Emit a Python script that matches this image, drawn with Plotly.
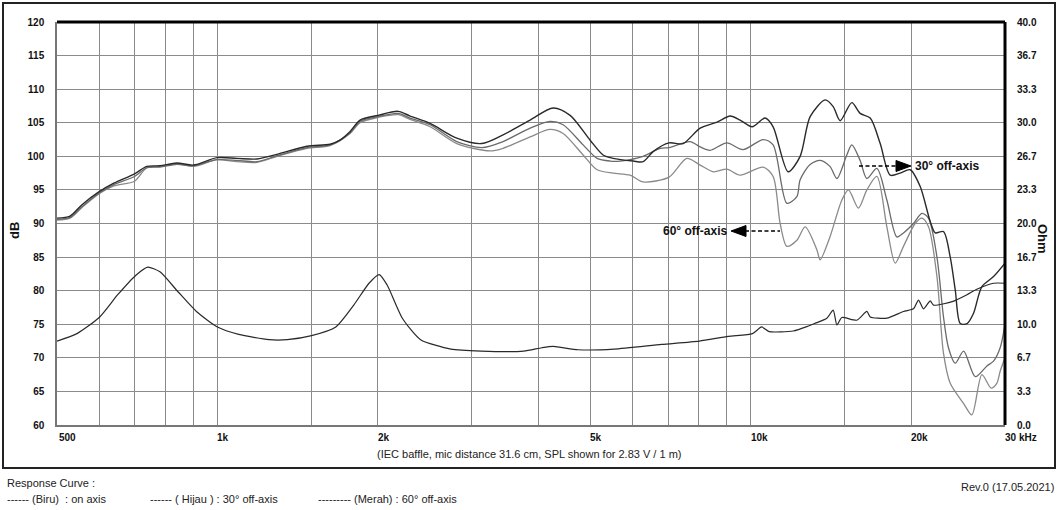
import numpy as np
import plotly.graph_objects as go

# ---------------- data ----------------
freq_on = [500, 529, 557, 599, 639, 699, 737, 780, 839, 902, 998, 1088, 1186, 1293, 1472, 1626,
           1698, 1773, 1851, 2000, 2182, 2297, 2505, 2811, 3131, 3433, 3858, 4262, 4586, 5000,
           5288, 5521, 6019, 6285, 6562, 7031, 7470, 8040, 8653, 9153, 9557, 10065, 10646, 11020,
           11760, 12385, 12930, 13800, 14285, 14720, 15480, 16045, 16760, 17500, 18270, 19075,
           19920, 20800, 21720, 22195, 23000, 23680, 24200, 24730, 25460, 26180, 27150, 28550, 30000]
db_on = [90.8, 91.1, 92.8, 94.7, 96.0, 97.4, 98.5, 98.6, 99.0, 98.7, 99.8, 99.7, 99.6, 100.3, 101.5, 101.8,
         102.4, 103.7, 105.4, 106.1, 106.7, 106.0, 104.9, 102.7, 101.9, 103.2, 105.4, 107.2, 106.1, 102.4,
         100.2, 99.7, 99.3, 99.2, 100.7, 102.0, 101.9, 104.2, 105.1, 106.0, 105.4, 104.4, 105.7, 104.4,
         97.7, 100.0, 105.9, 108.4, 107.4, 105.3, 108.0, 106.4, 105.7, 101.9, 97.2, 97.5,
         98.0, 95.5, 90.3, 88.6, 88.8, 85.0, 80.1, 75.1, 75.1, 76.6, 80.6, 82.1, 84.1]

freq_30 = [500, 529, 557, 599, 639, 699, 737, 780, 839, 902, 998, 1088, 1186, 1293, 1472, 1626,
           1773, 1851, 2000, 2182, 2297, 2505, 2811, 3131, 3433, 3858, 4206, 4449, 4851, 5153,
           5450, 5691, 6285, 6763, 7031, 7700, 8040, 8395, 9022, 9680, 10556, 11020, 11695, 12210,
           12385, 12930, 13500, 14085, 14515, 15150, 15480, 16045, 16520, 17250, 18010, 18805,
           19350, 20205, 20955, 21560, 22360, 23000, 23500, 24200, 25090, 26380, 27750, 28550,
           29380, 30000]
db_30 = [90.6, 90.9, 92.5, 94.5, 95.8, 97.0, 98.3, 98.4, 98.8, 98.6, 99.5, 99.4, 99.2, 100.1, 101.3, 101.7,
         103.5, 105.2, 105.9, 106.4, 105.7, 104.7, 102.2, 101.3, 102.2, 104.2, 105.2, 104.7, 101.7, 99.7,
         99.3, 99.3, 100.0, 101.2, 101.3, 102.2, 101.4, 100.9, 102.0, 101.0, 102.5, 101.7, 93.0, 94.0,
         96.5, 98.8, 99.4, 98.5, 96.7, 100.2, 101.7, 99.4, 96.7, 98.2, 93.5, 88.0,
         88.6, 90.0, 91.5, 90.8, 85.0, 76.1, 71.5, 69.2, 71.0, 67.2, 68.8, 69.5,
         71.5, 75.0]

freq_60 = [500, 529, 557, 599, 639, 699, 737, 780, 839, 902, 998, 1088, 1186, 1293, 1472, 1626,
           1773, 1851, 2000, 2182, 2297, 2505, 2811, 3245, 3433, 3858, 4206, 4449, 4851, 5153,
           5521, 5942, 6285, 7031, 7590, 8040, 8516, 9022, 9557, 10556, 11020, 11360, 11695, 12210,
           12655, 13310, 13500, 14085, 14830, 15260, 15930, 16520, 17250, 18010, 18670, 19350,
           20350, 20955, 21560, 22360, 23000, 23680, 25090, 26000, 27150, 28250, 28950, 29380, 30000]
db_60 = [90.5, 90.8, 92.4, 94.4, 95.6, 96.3, 98.3, 98.5, 98.9, 98.5, 99.5, 99.2, 99.1, 100.0, 101.2, 101.6,
         103.4, 105.0, 105.8, 106.2, 105.5, 104.4, 101.9, 100.8, 101.2, 102.9, 104.0, 103.4, 100.2, 98.0,
         97.5, 97.2, 96.2, 96.9, 99.7, 98.7, 97.7, 98.1, 97.2, 98.4, 97.0, 90.0, 86.6, 87.5,
         89.5, 86.1, 84.6, 88.0, 93.5, 95.0, 92.3, 95.0, 97.0, 89.5, 84.1, 86.6,
         90.0, 90.8, 89.5, 82.1, 70.7, 66.2, 63.2, 61.5, 67.5, 65.5, 66.2, 68.0, 70.0]

freq_imp = [500, 545, 600, 650, 703, 740, 780, 844, 913, 1000, 1096, 1249, 1352, 1501, 1667, 1803, 1924,
            2011, 2082, 2222, 2404, 2740, 3122, 3751, 4057, 4262, 4748, 5544, 6810, 8012, 9080,
            10080, 10490, 10832, 12020, 12800, 13175, 13900, 14285, 14515, 14830, 15820, 16520,
            16760, 18010, 19350, 20205, 20650, 21100, 21720, 22030, 23970, 25460, 26560, 28550, 30000]
ohm_imp = [8.33, 9.07, 10.67, 12.93, 14.87, 15.67, 15.2, 13.2, 11.27, 9.73, 9.0, 8.47, 8.47, 8.87, 9.73, 11.93, 14.07,
           14.93, 13.87, 10.6, 8.47, 7.53, 7.33, 7.33, 7.67, 7.8, 7.47, 7.53, 8.0, 8.33, 8.8,
           9.07, 9.73, 9.27, 9.33, 9.8, 10.07, 10.6, 11.4, 9.93, 10.67, 10.4, 11.27,
           10.73, 10.6, 11.27, 11.53, 12.4, 11.53, 12.33, 11.9, 12.27, 12.93, 13.47, 14.07, 14.07]

grid_freqs = [600, 700, 800, 900, 1000, 1500, 2000, 3000, 4000, 5000, 6000, 7000, 8000, 9000,
              10000, 15000, 20000]
xtick_freqs = [500, 1000, 2000, 5000, 10000, 20000, 30000]
xtick_text = ["500", "1k", "2k", "5k", "10k", "20k", "30 kHz"]
ohm_ticks = [0, 10/3, 20/3, 10, 40/3, 50/3, 20, 70/3, 80/3, 30, 100/3, 110/3, 40]
ohm_text = ["0.0", "3.3", "6.7", "10.0", "13.3", "16.7", "20.0", "23.3", "26.7", "30.0", "33.3", "36.7", "40.0"]

# ---------------- layout geometry ----------------
W, H = 1060, 510
L, R, T, B = 57, 55, 22, 85
PW, PH = W - L - R, H - T - B


def xp(px):
    return (px - L) / PW


def yp(py):
    return (T + PH - py) / PH


FONT = "Liberation Sans, Arial, sans-serif"
GRID = "#8a8a8a"

fig = go.Figure()
fig.add_trace(go.Scatter(x=freq_60, y=db_60, mode="lines", hoverinfo="skip", showlegend=False,
                         line=dict(color="#8a8a8a", width=1.3, shape="spline", smoothing=0.8)))
fig.add_trace(go.Scatter(x=freq_30, y=db_30, mode="lines", hoverinfo="skip", showlegend=False,
                         line=dict(color="#6a6a6a", width=1.3, shape="spline", smoothing=0.8)))
fig.add_trace(go.Scatter(x=freq_on, y=db_on, mode="lines", hoverinfo="skip", showlegend=False,
                         line=dict(color="#2a2a2a", width=1.4, shape="spline", smoothing=0.8)))
fig.add_trace(go.Scatter(x=freq_imp, y=ohm_imp, mode="lines", hoverinfo="skip", showlegend=False,
                         yaxis="y2",
                         line=dict(color="#2a2a2a", width=1.2, shape="spline", smoothing=0.6)))

fig.update_layout(
    width=W, height=H,
    margin=dict(l=L, r=R, t=T, b=B, pad=0),
    paper_bgcolor="white", plot_bgcolor="white",
    font=dict(family=FONT, color="#111"),
    xaxis=dict(type="log", range=[np.log10(500), np.log10(30000)], tickvals=grid_freqs,
               showticklabels=False, ticks="", showgrid=True, gridcolor=GRID, gridwidth=1.3,
               showline=True, linecolor="#777", linewidth=1.5, zeroline=False, fixedrange=True),
    yaxis=dict(range=[60, 120], tick0=60, dtick=5, showgrid=True, gridcolor=GRID, gridwidth=1.3,
               showline=True, linecolor="#777", linewidth=1.5, zeroline=False, ticks="",
               tickfont=dict(family=FONT, size=10, weight="bold", color="#111"),
               ticklabelstandoff=9),
    yaxis2=dict(range=[0, 40], overlaying="y", side="right", tickvals=ohm_ticks, ticktext=ohm_text,
                showgrid=False, zeroline=False, ticks="", showline=False,
                tickfont=dict(family=FONT, size=10, weight="bold", color="#111"),
                ticklabelstandoff=11),
)

shapes = [
    # outer frame
    dict(type="rect", xref="paper", yref="paper", x0=xp(3), x1=xp(1055), y0=yp(468), y1=yp(3),
         line=dict(color="#222", width=2)),
    # thick top and right borders
    dict(type="line", xref="paper", yref="paper", x0=0, x1=1, y0=1, y1=1,
         line=dict(color="black", width=3)),
    dict(type="line", xref="paper", yref="paper", x0=1, x1=1, y0=0, y1=1,
         line=dict(color="black", width=3)),
    # 30 deg arrow
    dict(type="line", xref="paper", yref="paper", x0=xp(859), x1=xp(897), y0=yp(166), y1=yp(166),
         line=dict(color="black", width=1.6, dash="4px,2.5px")),
    dict(type="path", xref="paper", yref="paper",
         path=f"M {xp(896)} {yp(160.5)} L {xp(911)} {yp(166)} L {xp(896)} {yp(171.5)} Z",
         fillcolor="black", line=dict(color="black", width=1)),
    # 60 deg arrow
    dict(type="line", xref="paper", yref="paper", x0=xp(745), x1=xp(780), y0=yp(231), y1=yp(231),
         line=dict(color="black", width=1.6, dash="4px,2.5px")),
    dict(type="path", xref="paper", yref="paper",
         path=f"M {xp(746)} {yp(225.5)} L {xp(731)} {yp(231)} L {xp(746)} {yp(236.5)} Z",
         fillcolor="black", line=dict(color="black", width=1)),
]
fig.update_layout(shapes=shapes)

ann = []
for f, t in zip(xtick_freqs, xtick_text):
    ann.append(dict(x=np.log10(f), xref="x", y=yp(437), yref="paper", text=t, showarrow=False,
                    xanchor="left", yanchor="middle", xshift=-2 if f > 500 else 0,
                    font=dict(family=FONT, size=10, weight="bold", color="#111")))


def txt(px, py, text, size=11, bold=False, xanchor="left", angle=0):
    font = dict(family=FONT, size=size, color="#111" if bold else "#222")
    if bold:
        font["weight"] = "bold"
    return dict(x=xp(px), y=yp(py), xref="paper", yref="paper", text=text, showarrow=False,
                xanchor=xanchor, yanchor="middle", textangle=angle, font=font)


ann += [
    txt(14, 231, "dB", size=13, bold=True, xanchor="center", angle=-90),
    txt(1043, 239, "Ohm", size=13, bold=True, xanchor="center", angle=90),
    txt(529, 454, "(IEC baffle, mic distance 31.6 cm, SPL shown for 2.83 V / 1 m)", xanchor="center"),
    txt(913, 166, "30° off-axis", size=12, bold=True, xanchor="left"),
    txt(729, 231, "60° off-axis", size=12, bold=True, xanchor="right"),
    txt(5, 483, "Response Curve :"),
    txt(5, 499, "------ (Biru)  : on axis"),
    txt(148, 499, "------ ( Hijau ) : 30° off-axis"),
    txt(316, 499, "--------- (Merah) : 60° off-axis"),
    txt(1056, 487, "Rev.0 (17.05.2021)", xanchor="right"),
]
fig.update_layout(annotations=ann)

fig.write_html("out.html")
